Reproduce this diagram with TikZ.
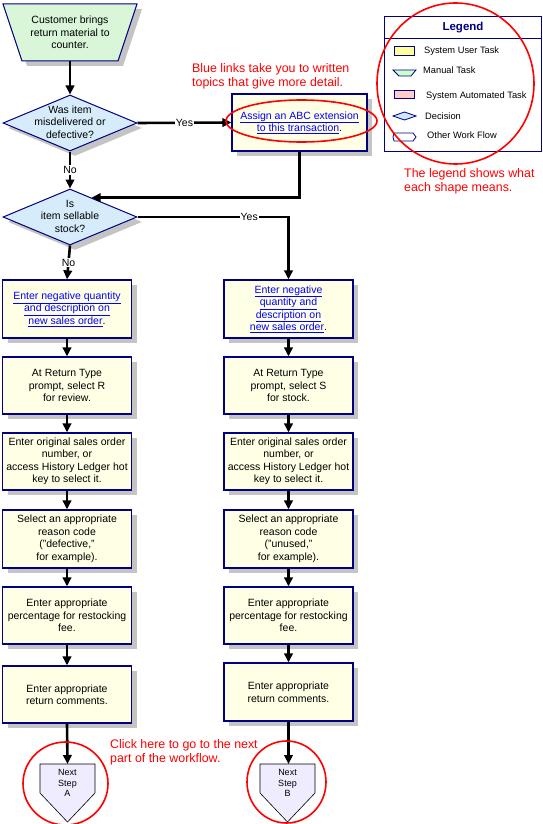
\documentclass[tikz,border=0pt]{standalone}
\usepackage{fontspec}
\setmainfont{Liberation Sans}
\usetikzlibrary{shapes.geometric,arrows.meta,shadows,calc}
\definecolor{navy}{HTML}{000080}
\definecolor{taskfill}{HTML}{FFFFE6}
\definecolor{decfill}{HTML}{D6ECFA}
\definecolor{manfill}{HTML}{D9F6D9}
\definecolor{nextfill}{HTML}{F0ECFF}
\definecolor{shadowgray}{HTML}{C4C4C4}
\definecolor{linkblue}{HTML}{0000FF}
\definecolor{notered}{HTML}{FF0000}
\definecolor{legyellow}{HTML}{FFFF99}
\definecolor{leggreen}{HTML}{CCFFCC}
\definecolor{legpink}{HTML}{FFCCCC}
\definecolor{legblue}{HTML}{CCE8FF}
\newcommand{\lnk}[1]{\textcolor{linkblue}{\underline{#1}}}
\begin{document}
\begin{tikzpicture}[x=1pt,y=-1pt,
 txt/.style={font=\fontsize{10.5}{12.5}\selectfont, align=center},
 shad/.style={drop shadow={shadow xshift=5pt,shadow yshift=-5pt,fill=shadowgray,opacity=1}},
 task/.style={txt, rectangle, draw=navy, line width=1.2pt, fill=taskfill, shad, minimum width=129pt, inner sep=2pt},
 decision/.style={diamond, draw=navy, line width=1pt, fill=decfill, shad, minimum width=134pt, minimum height=56pt, inner sep=0pt},
 flow/.style={line width=2.6pt, -{Triangle[length=9pt,width=8.5pt]}},
 plain/.style={line width=2.6pt},
 lbl/.style={txt, fill=white, inner sep=1pt},
 note/.style={font=\fontsize{12.4}{14.3}\selectfont, text=notered, align=left, anchor=north west, inner sep=0pt},
 ring/.style={draw=notered, line width=1.6pt},
 legtxt/.style={font=\fontsize{9.3}{11}\selectfont, anchor=west, inner sep=0pt},
 legsym/.style={draw=navy, line width=0.8pt},
 nextshape/.style={draw=black, line width=0.6pt, fill=nextfill},
 nexttxt/.style={font=\fontsize{9}{10.5}\selectfont, align=center},
]
\useasboundingbox (0,0) rectangle (543,824);

% start (manual task)
\path[draw=navy, line width=1pt, fill=manfill, shad] (3,4) -- (137,4) -- (118,61) -- (22,61) -- cycle;
\node[txt, minimum height=57pt, minimum width=96pt, inner sep=0pt] (start) at (70,32.5) {Customer brings\\return material to\\counter.};

% decisions
\node[decision] (d1) at (70,123) {};
\node[txt] (d1t) at (70,122) {Was item\\misdelivered or\\defective?};
\node[decision] (d2) at (70,217) {};
\node[txt] (d2t) at (70,216) {Is\\item sellable\\stock?};

% ABC box
\node[task, minimum width=135pt, minimum height=57pt] (abc) at (299.5,122.5) {\lnk{Assign an ABC extension}\\\lnk{to this transaction}.};

% left column
\node[task, minimum height=58pt] (L1) at (67,309) {\lnk{Enter negative quantity}\\\lnk{and description on}\\\lnk{new sales order}.};
\node[task, minimum height=57pt] (L2) at (67,385.5) {At Return Type\\prompt, select R\\for review.};
\node[task, minimum height=57pt] (L3) at (67,461.5) {Enter original sales order\\number, or\\access History Ledger hot\\key to select it.};
\node[task, minimum height=58pt] (L4) at (67,539) {Select an appropriate\\reason code\\("defective,"\\for example).};
\node[task, minimum height=57pt] (L5) at (67,615.5) {Enter appropriate\\percentage for restocking\\fee.};
\node[task, minimum height=57pt] (L6) at (67,694.5) {Enter appropriate\\return comments.};

% right column
\node[task, minimum height=58pt] (R1) at (288.5,309) {\lnk{Enter negative}\\\lnk{quantity and}\\\lnk{description on}\\\lnk{new sales order}.};
\node[task, minimum height=57pt] (R2) at (288.5,385.5) {At Return Type\\prompt, select S\\for stock.};
\node[task, minimum height=57pt] (R3) at (288.5,461.5) {Enter original sales order\\number, or\\access History Ledger hot\\key to select it.};
\node[task, minimum height=58pt] (R4) at (288.5,539) {Select an appropriate\\reason code\\("unused,"\\for example).};
\node[task, minimum height=57pt] (R5) at (288.5,615.5) {Enter appropriate\\percentage for restocking\\fee.};
\node[task, minimum height=58pt] (R6) at (288.5,692) {Enter appropriate\\return comments.};

% next step shapes
\path[nextshape] (40,764) -- (95,764) -- (95,793) -- (67.5,822) -- (40,793) -- cycle;
\coordinate (nA) at (67.5,764);
\node[nexttxt] (nAt) at (67.5,783) {Next\\Step\\A};
\path[nextshape] (260,764) -- (315,764) -- (315,793) -- (287.5,822) -- (260,793) -- cycle;
\coordinate (nB) at (288.5,764);
\node[nexttxt] (nBt) at (287.5,783) {Next\\Step\\B};

% connectors
\draw[flow] (start.south) -- (d1.north);
\draw[flow] (d1.east) -- node[lbl] {Yes} (abc.west);
\draw[flow] (d1.south) -- node[lbl] {No} (d2.north);
\coordinate (d2in) at ($(d2.north)!0.32!(d2.east)$);
\draw[flow] (abc.south) |- (d2in);
\draw[flow] (d2.east) -| node[lbl, pos=0.37] {Yes} (R1.north);
\draw[flow] (d2.south) -- node[lbl] {No} (L1.north);
\foreach \a/\b in {L1/L2,L2/L3,L3/L4,L4/L5,L5/L6,R1/R2,R2/R3,R3/R4,R4/R5,R5/R6}
  \draw[flow] (\a.south) -- (\b.north);
\draw[flow] (L6.south) -- (nA);
\draw[flow] (R6.south) -- (nB);

% legend
\node[draw=navy, line width=1pt, fill=white, minimum width=157pt, minimum height=134pt, inner sep=0pt] (legend) at (462.5,84) {};
\draw[navy, line width=1pt] (384,39) -- (541,39);
\node[font=\bfseries\fontsize{11.5}{13}\selectfont, text=navy] (legtitle) at (463,27.5) {Legend};
\draw[legsym, fill=legyellow] (394,46) rectangle (414,55);
\node[legtxt] (lg1) at (424,51) {System User Task};
\draw[legsym, fill=leggreen] (393,70) -- (416,70) -- (411,76) -- (399,76) -- cycle;
\node[legtxt] (lg2) at (423,70.5) {Manual Task};
\draw[legsym, fill=legpink] (394,90) rectangle (414,98);
\node[legtxt] (lg3) at (426,96) {System Automated Task};
\draw[legsym, fill=legblue] (393,116) -- (404.5,112) -- (416,116) -- (404.5,120) -- cycle;
\node[legtxt] (lg4) at (425,116) {Decision};
\draw[legsym, fill=white] (394,133) -- (413,133) -- (416,137) -- (413,141) -- (394,141) -- (393,137) -- cycle;
\node[legtxt] (lg5) at (427,135.5) {Other Work Flow};

% red notes and rings
\node[note] (n1) at (192,63.5) {Blue links take you to written\\topics that give more detail.};
\node[note] (n2) at (404,168.5) {The legend shows what\\each shape means.};
\node[note] (n3) at (110,739.5) {Click here to go to the next\\part of the workflow.};
\draw[ring] (301.5,121) ellipse [x radius=75.5pt, y radius=21pt];
\draw[ring] (455.5,83.5) ellipse [x radius=78.5pt, y radius=80.5pt];
\draw[ring] (65.5,783.5) ellipse [x radius=42.5pt, y radius=41.5pt];
\draw[ring] (286.5,782) ellipse [x radius=39.5pt, y radius=41pt];
\end{tikzpicture}
\end{document}
